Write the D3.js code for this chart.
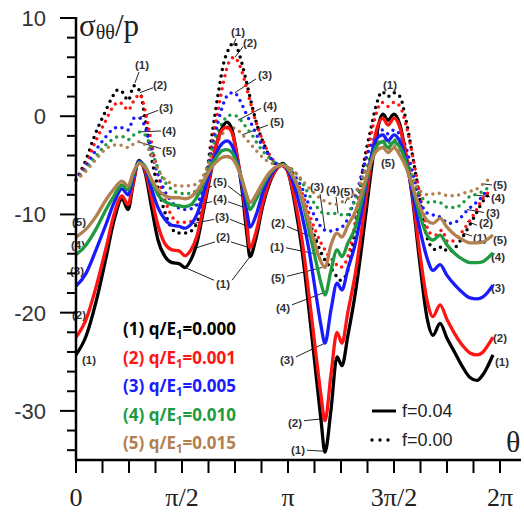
<!DOCTYPE html>
<html>
<head>
<meta charset="utf-8">
<script src="https://cdn.jsdelivr.net/npm/d3@7"></script>
<style>
  html, body { margin: 0; padding: 0; background: #fff; }
  svg { display: block; }
</style>
</head>
<body>
<div id="chart"></div>
<script>
// theta in degrees (axis labelled in multiples of pi)
const thetaSolid = [0, 8.5, 17.0, 25.5, 32.3, 39.1, 44.2, 48.4, 53.5, 58.6, 64.5, 69.6, 75.6, 81.5, 87.5, 92.5, 97.6, 102.7, 108.7, 114.6, 119.7, 124.0, 128.2, 132.5, 136.7, 141.0, 145.2, 147.7, 152.8, 158.8, 164.7, 170.7, 175.8, 180.8, 185.9, 191.9, 197.8, 203.8, 208.0, 211.4, 216.5, 221.6, 225.8, 230.9, 236.9, 242.8, 249.6, 254.7, 260.6, 264.9, 270.0, 275.1, 280.2, 285.3, 292.1, 298.0, 303.1, 309.1, 315.0, 321.8, 328.6, 334.5, 340.5, 345.6, 349.8, 354.0]
const thetaDotted = [0, 7.6, 16.1, 24.6, 30.6, 35.7, 39.9, 44.2, 49.2, 54.3, 58.6, 62.8, 67.1, 73.0, 79.8, 86.6, 93.4, 100.2, 105.3, 110.4, 115.5, 120.6, 125.6, 129.9, 134.2, 139.2, 144.3, 149.4, 154.5, 160.5, 166.4, 171.5, 175.8, 180.8, 185.9, 191.9, 197.8, 203.8, 208.9, 214.0, 219.1, 224.2, 229.2, 234.3, 239.4, 244.5, 249.6, 254.7, 259.8, 264.9, 270.0, 275.1, 280.2, 285.3, 290.4, 295.5, 300.6, 305.7, 310.8, 315.8, 321.8, 327.7, 332.8, 338.8, 344.7, 349.8]

// f = 0.04 (solid)
const solid1 = [-24.3, -22.4, -18.9, -14.4, -10.6, -8.4, -9.5, -7.0, -4.5, -5.7, -9.5, -12.6, -14.3, -14.9, -15.0, -15.4, -14.6, -12.9, -9.3, -5.7, -2.7, -1.2, -0.6, -1.4, -4.0, -7.5, -12.1, -14.3, -12.4, -9.0, -6.7, -5.3, -4.8, -6.0, -9.0, -13.6, -19.7, -26.3, -30.9, -34.2, -29.9, -24.5, -25.4, -22.3, -18.2, -13.1, -6.5, -2.2, 0.2, -0.4, 0.2, -0.9, -4.0, -8.0, -15.1, -20.5, -22.3, -21.1, -22.6, -24.1, -25.6, -26.6, -26.9, -26.3, -25.4, -24.3]
const solid2 = [-22.5, -20.7, -17.4, -13.4, -10.0, -8.1, -9.0, -6.8, -4.6, -5.5, -8.5, -11.1, -13.0, -13.6, -13.7, -14.2, -13.6, -12.2, -8.9, -5.5, -2.7, -1.4, -1.1, -1.7, -4.0, -7.0, -11.1, -13.4, -11.8, -8.7, -6.5, -5.3, -4.9, -6.0, -8.5, -12.6, -18.2, -24.3, -28.4, -31.0, -26.3, -22.0, -23.1, -19.9, -16.2, -11.4, -5.5, -1.6, -0.2, -0.9, -0.2, -1.2, -4.0, -7.7, -14.1, -18.7, -20.4, -19.2, -20.7, -22.2, -23.4, -24.1, -24.3, -24.0, -23.3, -22.5]
const solid3 = [-17.3, -16.0, -13.6, -11.0, -8.8, -7.4, -8.0, -6.3, -4.6, -5.2, -7.5, -9.3, -10.5, -11.1, -11.2, -11.4, -11.0, -10.0, -7.7, -5.3, -3.6, -2.8, -2.5, -3.0, -4.5, -7.0, -9.8, -11.3, -10.1, -7.7, -6.1, -5.2, -4.9, -5.7, -7.3, -10.1, -13.6, -18.2, -21.3, -23.1, -19.7, -17.0, -17.7, -15.5, -13.1, -9.5, -4.7, -2.4, -1.9, -2.5, -1.9, -2.6, -4.5, -7.5, -11.6, -14.4, -15.7, -15.1, -16.2, -17.2, -18.0, -18.5, -18.6, -18.4, -17.9, -17.2]
const solid4 = [-14.1, -13.1, -11.5, -9.5, -8.1, -7.0, -7.5, -6.0, -4.7, -5.1, -6.7, -8.0, -8.7, -9.0, -9.1, -9.2, -9.0, -8.2, -6.7, -5.0, -4.1, -3.5, -3.4, -3.7, -4.8, -6.5, -8.5, -9.5, -8.5, -7.0, -5.8, -5.1, -4.9, -5.5, -6.5, -8.5, -11.6, -14.8, -17.0, -18.2, -15.7, -13.6, -14.3, -12.9, -11.4, -8.5, -5.0, -3.1, -2.6, -3.2, -2.6, -3.2, -4.7, -7.0, -10.1, -12.1, -12.6, -12.1, -13.1, -14.0, -14.6, -14.9, -14.9, -14.8, -14.4, -13.9]
const solid5 = [-12.3, -11.5, -10.2, -8.5, -7.4, -6.6, -7.1, -5.8, -4.8, -5.2, -6.5, -7.5, -8.1, -8.3, -8.3, -8.4, -8.2, -7.6, -6.5, -5.3, -4.6, -4.2, -4.1, -4.3, -5.1, -6.5, -8.1, -8.8, -8.0, -6.7, -5.7, -5.1, -5.0, -5.4, -6.5, -8.3, -10.8, -13.4, -14.8, -15.4, -13.1, -11.9, -12.3, -11.1, -9.8, -7.7, -5.0, -3.6, -3.2, -3.7, -3.2, -4.0, -5.2, -7.0, -9.3, -10.6, -10.9, -10.4, -11.3, -12.1, -12.6, -12.9, -12.9, -12.8, -12.5, -12.1]

// f = 0.00 (dotted)
const dotted1 = [-6.5, -4.7, -1.9, 0.4, 1.9, 2.7, 2.4, 1.6, 3.1, 2.5, -0.2, -3.4, -6.0, -8.8, -11.1, -11.9, -11.9, -11.4, -9.8, -6.3, -1.9, 2.2, 5.5, 6.9, 7.5, 6.1, 3.7, 1.1, -1.2, -3.1, -4.5, -5.0, -5.1, -5.7, -6.7, -8.3, -10.6, -12.6, -14.1, -15.1, -15.9, -16.7, -16.2, -13.6, -9.0, -4.7, -1.7, 1.0, 2.5, 2.0, 2.4, 2.0, -0.4, -3.7, -7.3, -11.1, -13.1, -13.6, -13.3, -13.8, -13.4, -12.4, -11.4, -10.1, -8.8, -8.0]
const dotted2 = [-6.5, -5.1, -2.7, -0.6, 0.8, 1.4, 1.2, 0.6, 1.6, 2.2, 0.6, -1.9, -4.5, -7.5, -9.8, -10.8, -10.8, -10.6, -9.3, -6.7, -2.9, 0.6, 3.7, 5.5, 6.0, 5.1, 3.1, 0.8, -1.2, -3.0, -4.3, -4.9, -5.1, -5.7, -6.5, -7.8, -9.9, -11.8, -13.1, -14.1, -14.8, -15.4, -14.8, -12.6, -9.0, -5.3, -2.4, 0.2, 1.4, 1.0, 1.4, 1.0, -0.9, -3.7, -7.0, -10.1, -11.9, -12.1, -11.6, -12.8, -12.6, -11.8, -10.9, -9.8, -8.5, -7.8]
const dotted3 = [-6.5, -5.3, -3.6, -2.2, -1.4, -1.1, -1.2, -1.4, -0.2, -0.2, -1.1, -2.9, -5.0, -7.0, -8.5, -9.3, -9.5, -9.3, -8.3, -6.3, -3.4, -0.6, 1.4, 2.3, 2.4, 1.6, 0.3, -0.9, -2.2, -3.4, -4.4, -4.9, -5.0, -5.3, -6.1, -7.3, -9.0, -10.4, -11.4, -11.7, -11.6, -11.4, -10.8, -9.3, -7.3, -5.0, -3.2, -2.0, -1.4, -1.8, -1.4, -1.9, -3.2, -5.5, -8.0, -9.5, -10.0, -10.1, -10.4, -10.9, -10.8, -10.2, -9.5, -8.9, -8.2, -7.3]
const dotted4 = [-6.5, -5.5, -4.2, -3.0, -2.4, -2.1, -2.1, -2.4, -1.9, -1.6, -1.9, -2.9, -4.5, -6.2, -7.3, -7.8, -7.9, -7.7, -7.1, -5.5, -3.4, -1.6, -0.4, 0.1, 0.1, -0.3, -1.1, -1.9, -2.9, -3.8, -4.5, -4.9, -5.0, -5.2, -5.7, -6.7, -8.0, -9.1, -9.8, -9.9, -9.9, -10.0, -10.1, -9.2, -7.9, -6.0, -4.2, -3.0, -2.4, -2.8, -2.4, -2.8, -4.0, -6.0, -7.7, -8.5, -8.8, -8.7, -8.9, -9.3, -9.3, -8.9, -8.3, -8.0, -7.7, -7.3]
const dotted5 = [-6.5, -5.7, -4.5, -3.4, -3.0, -2.9, -3.0, -3.2, -2.8, -2.6, -2.9, -3.6, -4.8, -6.1, -6.8, -7.1, -7.1, -7.0, -6.6, -5.5, -4.0, -2.5, -1.6, -1.2, -1.2, -1.6, -2.3, -3.0, -3.7, -4.4, -4.8, -5.0, -5.0, -5.2, -5.7, -6.5, -7.3, -8.0, -8.5, -8.8, -9.0, -8.8, -8.5, -8.1, -7.3, -5.9, -4.6, -3.6, -3.0, -3.4, -3.0, -3.6, -4.7, -6.1, -7.3, -7.9, -8.0, -7.8, -7.9, -8.1, -8.1, -7.9, -7.7, -7.5, -7.0, -6.5]

const curveNames = ['(1)', '(2)', '(3)', '(4)', '(5)']
const qValues = ['0.000', '0.001', '0.005', '0.010', '0.015']
const fValues = ['0.04', '0.00']
const xTickValues = [0, 90, 180, 270, 360]
const xTickLabels = ['0', 'π/2', 'π', '3π/2', '2π']
const yTickValues = [10, 0, -10, -20, -30]

const COLORS = ['#000000', '#ff1414', '#1a1aff', '#1e9a40', '#b3804f']
const LABEL_FONT = "'Liberation Sans', Arial, sans-serif"
const SERIF = "'Liberation Serif', 'Times New Roman', serif"

// curve annotations: [text, labelPos, leaderFrom, leaderTo] in (theta, value)
const annotations = [
  ['(1)', [56.0, 5.2], [53.5, 4.5], [50.1, 3.4]],
  ['(2)', [71.3, 3.2], [65.4, 2.9], [54.3, 2.4]],
  ['(3)', [76.4, 0.9], [69.6, 0.6], [52.6, -0.2]],
  ['(4)', [79.0, -1.5], [72.2, -1.5], [52.6, -1.6]],
  ['(5)', [79.0, -3.5], [72.2, -3.3], [52.6, -2.6]],
  ['(5)', [2.5, -10.8]],
  ['(4)', [1.7, -13.1]],
  ['(3)', [0.8, -15.7]],
  ['(2)', [2.5, -20.2]],
  ['(1)', [11.0, -24.8]],
  ['(5)', [122.3, -6.7], [115.5, -7.1], [96.8, -8.2]],
  [null, null, [129.1, -7.1], [147.7, -8.8]],
  ['(4)', [122.3, -8.4], [115.5, -8.7], [96.8, -9.1]],
  [null, null, [129.1, -8.7], [147.7, -9.5]],
  ['(3)', [124.0, -10.2], [117.2, -10.5], [96.8, -11.0]],
  [null, null, [130.8, -10.5], [147.7, -11.3]],
  ['(2)', [124.8, -12.3], [118.0, -12.8], [96.8, -13.6]],
  [null, null, [131.6, -12.8], [147.7, -13.4]],
  ['(1)', [124.8, -17.1], [117.2, -16.7], [92.5, -15.4]],
  [null, null, [132.5, -16.7], [147.7, -14.3]],
  ['(2)', [171.5, -10.9], [179.1, -11.2], [205.5, -12.6]],
  ['(1)', [170.7, -13.3], [178.3, -13.4], [207.2, -14.1]],
  ['(5)', [171.5, -16.5], [179.1, -16.3], [208.9, -15.4]],
  ['(4)', [175.8, -19.5], [183.4, -19.2], [209.7, -18.0]],
  ['(3)', [179.1, -24.8], [186.8, -24.5], [211.4, -23.1]],
  ['(2)', [185.9, -31.2], [193.6, -31.0], [209.7, -30.8]],
  ['(1)', [188.5, -34.0], [196.1, -34.0], [209.7, -34.1]],
  ['(3)', [204.6, -7.2], [207.2, -7.9], [211.4, -11.6]],
  ['(4)', [218.2, -7.5], [220.8, -8.2], [222.5, -9.9]],
  ['(5)', [230.1, -7.7], [230.1, -8.4], [228.4, -8.9]],
  ['(1)', [137.5, 8.6], [135.8, 7.9], [133.3, 7.2]],
  ['(2)', [147.7, 7.5], [141.8, 7.1], [135.0, 6.0]],
  ['(3)', [160.5, 4.2], [152.8, 3.8], [135.0, 2.4]],
  ['(4)', [164.7, 1.1], [157.1, 0.8], [137.5, -0.4]],
  ['(5)', [170.7, -0.6], [163.0, -0.9], [141.0, -1.9]],
  ['(1)', [266.6, 3.2]],
  ['(5)', [264.9, -4.7]],
  ['(5)', [360.0, -12.6]],
  ['(4)', [358.3, -14.3]],
  ['(3)', [358.3, -17.5]],
  ['(2)', [360.0, -22.6]],
  ['(1)', [361.7, -25.0]],
  ['(5)', [360.0, -7.0], [346.4, -6.9], [353.2, -7.0]],
  ['(4)', [358.3, -8.3], [337.1, -8.0], [351.5, -8.2]],
  ['(3)', [354.0, -9.8], [332.0, -9.5], [346.4, -9.8]],
  ['(2)', [348.1, -10.9], [332.0, -10.7], [340.5, -11.1]],
  ['(1)', [343.0, -12.4], [328.6, -11.9], [336.2, -12.2]]
]

const width = 524
const height = 517

const svg = d3.select('#chart')
  .append('svg')
  .attr('width', width)
  .attr('height', height)

const x = d3.scaleLinear().domain([0, 360]).range([76, 500])
const y = d3.scaleLinear().domain([-35, 10]).range([460, 18])

const solidSeries = [solid1, solid2, solid3, solid4, solid5]
const dottedSeries = [dotted1, dotted2, dotted3, dotted4, dotted5]

// annotation labels first so the curves sit on top of them
const ann = svg.append('g')
annotations.forEach(a => {
  const [text, pos, from, to] = a
  if (from) {
    ann.append('line')
      .attr('x1', x(from[0])).attr('y1', y(from[1]))
      .attr('x2', x(to[0])).attr('y2', y(to[1]))
      .attr('stroke', '#222')
      .attr('stroke-width', 1)
  }
  if (text) {
    ann.append('text')
      .attr('x', x(pos[0]))
      .attr('y', y(pos[1]))
      .attr('dy', '0.36em')
      .attr('text-anchor', 'middle')
      .attr('font-family', LABEL_FONT)
      .attr('font-weight', 'bold')
      .attr('font-size', '11.5px')
      .attr('fill', '#333')
      .text(text)
  }
})

// dotted (f=0.00)
dottedSeries.forEach((vals, i) => {
  const line = d3.line()
    .x((d, j) => x(thetaDotted[j]))
    .y(d => y(d))
    .curve(d3.curveMonotoneX)
  svg.append('path')
    .datum(vals)
    .attr('d', line)
    .attr('fill', 'none')
    .attr('stroke', COLORS[i])
    .attr('stroke-width', 3.5)
    .attr('stroke-linecap', 'round')
    .attr('stroke-dasharray', '0 6.6')
})

// solid (f=0.04)
solidSeries.forEach((vals, i) => {
  const line = d3.line()
    .x((d, j) => x(thetaSolid[j]))
    .y(d => y(d))
    .curve(d3.curveMonotoneX)
  svg.append('path')
    .datum(vals)
    .attr('d', line)
    .attr('fill', 'none')
    .attr('stroke', COLORS[i])
    .attr('stroke-width', 3.3)
    .attr('stroke-linejoin', 'round')
})

// y axis
const yMinor = d3.range(-34, 10.1, 2)
svg.append('line')
  .attr('x1', x(0)).attr('x2', x(0))
  .attr('y1', y(10) - 1).attr('y2', y(-35))
  .attr('stroke', '#000').attr('stroke-width', 2.5)
svg.selectAll('.ytick')
  .data(yMinor)
  .join('line')
  .attr('x1', d => x(0) - (d % 10 === 0 ? 16 : 9))
  .attr('x2', x(0))
  .attr('y1', d => y(d))
  .attr('y2', d => y(d))
  .attr('stroke', '#000')
  .attr('stroke-width', 2)
svg.selectAll('.ylab')
  .data(yTickValues)
  .join('text')
  .attr('x', 46)
  .attr('y', d => y(d))
  .attr('dy', '0.36em')
  .attr('text-anchor', 'end')
  .attr('font-family', LABEL_FONT)
  .attr('font-size', '22px')
  .attr('fill', '#333')
  .text(d => d)

// x axis
const xMinor = d3.range(0, 360.1, 22.5)
svg.append('line')
  .attr('x1', x(0) - 1).attr('x2', 521)
  .attr('y1', y(-35)).attr('y2', y(-35))
  .attr('stroke', '#000').attr('stroke-width', 2.5)
svg.selectAll('.xtick')
  .data(xMinor)
  .join('line')
  .attr('x1', d => x(d))
  .attr('x2', d => x(d))
  .attr('y1', y(-35))
  .attr('y2', y(-35) + 13)
  .attr('stroke', '#000')
  .attr('stroke-width', 2)
svg.selectAll('.xlab')
  .data(xTickValues)
  .join('text')
  .attr('x', d => x(d))
  .attr('y', 506)
  .attr('text-anchor', 'middle')
  .attr('font-family', SERIF)
  .attr('font-size', '26px')
  .attr('fill', '#222')
  .text((d, i) => xTickLabels[i])

// axis titles
const yTitle = svg.append('text')
  .attr('x', 79)
  .attr('y', 36)
  .attr('font-family', SERIF)
  .attr('font-size', '31px')
  .attr('fill', '#222')
yTitle.append('tspan').text('σ')
yTitle.append('tspan').attr('font-size', '20px').attr('dy', 3).text('θθ')
yTitle.append('tspan').attr('dy', -3).text('/p')

svg.append('text')
  .attr('x', 506)
  .attr('y', 452)
  .attr('font-family', SERIF)
  .attr('font-size', '30px')
  .attr('fill', '#222')
  .text('θ')

// legend for q/E1
const legend = svg.append('g')
curveNames.forEach((name, i) => {
  const t = legend.append('text')
    .attr('x', 123)
    .attr('y', 329 + i * 28.5)
    .attr('dy', '0.36em')
    .attr('font-family', "'Open Sans', sans-serif")
    .attr('font-weight', 'bold')
    .attr('font-size', '17px')
    .attr('fill', COLORS[i])
  t.append('tspan').text(name + ' q/E')
  t.append('tspan').attr('font-size', '11.5px').attr('dy', 4).text('1')
  t.append('tspan').attr('dy', -4).text('=' + qValues[i])
})

// legend for f
fValues.forEach((f, i) => {
  const yy = 411 + i * 29
  legend.append('line')
    .attr('x1', 372).attr('x2', 396)
    .attr('y1', yy).attr('y2', yy)
    .attr('stroke', '#000')
    .attr('stroke-width', i === 0 ? 3 : 3.4)
    .attr('stroke-linecap', i === 0 ? 'butt' : 'round')
    .attr('stroke-dasharray', i === 0 ? null : '0 8')
  legend.append('text')
    .attr('x', 402)
    .attr('y', yy)
    .attr('dy', '0.36em')
    .attr('font-family', LABEL_FONT)
    .attr('font-size', '18px')
    .attr('fill', '#222')
    .text('f=' + f)
})
</script>
</body>
</html>
